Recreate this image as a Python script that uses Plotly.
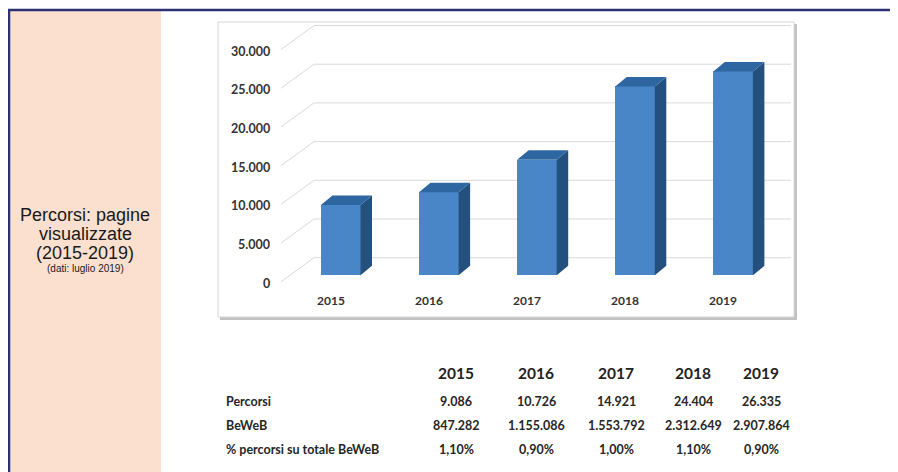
import plotly.graph_objects as go

# ---------------- data ----------------
years = ["2015", "2016", "2017", "2018", "2019"]
percorsi = [9086, 10726, 14921, 24404, 26335]
beweb = [847282, 1155086, 1553792, 2312649, 2907864]
percent_share = [1.10, 0.90, 1.00, 1.10, 0.90]
y_ticks = [0, 5000, 10000, 15000, 20000, 25000, 30000]
row_labels = ["Percorsi", "BeWeB", "% percorsi su totale BeWeB"]
panel_lines = ["Percorsi: pagine", "visualizzate", "(2015-2019)"]
panel_note = "(dati: luglio 2019)"

# ---------------- geometry / style ----------------
# the page body has an 8px margin: the figure starts at (8, 8) of the window
OFF = 8
W, H = 898 - OFF, 472 - OFF
BOX_L, BOX_R, BOX_T, BOX_B = 218 - OFF, 794 - OFF, 22 - OFF, 317 - OFF
BAR0_PX, BAR_STEP_PX = 340.7 - OFF, 98.1
ZERO_PX, PX_PER_UNIT = 275.3 - OFF, 0.00774

bar_w = 39.6 / BAR_STEP_PX
depth_x = 11.5 / BAR_STEP_PX
depth_y = 9.5 / PX_PER_UNIT
back_off = 17.6 / PX_PER_UNIT
label_off = 8.0 / PX_PER_UNIT

x0 = -(BAR0_PX - BOX_L) / BAR_STEP_PX
x1 = x0 + (BOX_R - BOX_L) / BAR_STEP_PX
y0 = -(BOX_B - ZERO_PX) / PX_PER_UNIT
y1 = (ZERO_PX - BOX_T) / PX_PER_UNIT


def px_to_x(px):
    return x0 + (px - OFF - BOX_L) / BAR_STEP_PX


FRONT = "#4886c7"
SIDE = "#23507d"
TOP = "#2e66a2"
GRID = "#dadada"
TXT = "#333333"
LBL_FONT = "Lato"


def fmt_it(v):
    return f"{v:,}".replace(",", ".")


idx = list(range(len(years)))

fig = go.Figure()

# front faces
fig.add_trace(go.Bar(x=idx, y=percorsi, width=bar_w, marker=dict(color=FRONT, line=dict(width=0)),
                     showlegend=False, hoverinfo="skip"))

# side & top faces
for i, v in zip(idx, percorsi):
    r = i + bar_w / 2
    l = i - bar_w / 2
    fig.add_trace(go.Scatter(
        x=[r, r + depth_x, r + depth_x, r, r],
        y=[0, depth_y, v + depth_y, v, 0],
        mode="lines", fill="toself", fillcolor=SIDE, line=dict(width=0, color=SIDE),
        hoverinfo="skip", showlegend=False))
    fig.add_trace(go.Scatter(
        x=[l, l + depth_x, r + depth_x, r, l],
        y=[v, v + depth_y, v + depth_y, v, v],
        mode="lines", fill="toself", fillcolor=TOP, line=dict(width=0, color=TOP),
        hoverinfo="skip", showlegend=False))


def P(px, py):
    return (px - OFF) / W, 1 - (py - OFF) / H


annotations = []
# y tick labels
for t in y_ticks:
    annotations.append(dict(x=px_to_x(272), y=t - label_off, xref="x", yref="y",
                            text=fmt_it(t), showarrow=False, xanchor="right", yanchor="middle",
                            font=dict(family=LBL_FONT, size=12.5, color=TXT, weight="bold")))
# category labels
for i, yr in zip(idx, years):
    annotations.append(dict(x=i - 0.10, y=-(300 - OFF - ZERO_PX) / PX_PER_UNIT, xref="x", yref="y",
                            text=yr, showarrow=False, xanchor="center", yanchor="middle",
                            font=dict(family=LBL_FONT, size=12, color=TXT, weight="bold")))

# table
col_px = [456, 536, 616, 693, 761]
row_py = [401.5, 425, 449]
header_py = 373

for cx, yr in zip(col_px, years):
    ax, ay = P(cx, header_py)
    annotations.append(dict(x=ax, y=ay, xref="paper", yref="paper", text=yr, showarrow=False,
                            xanchor="center", yanchor="middle",
                            font=dict(family=LBL_FONT, size=15.5, color="#222222", weight="bold")))
row_values = [
    [fmt_it(v) for v in percorsi],
    [fmt_it(v) for v in beweb],
    [f"{p:.2f}%".replace(".", ",") for p in percent_share],
]
for ry, lab, vals in zip(row_py, row_labels, row_values):
    ax, ay = P(224, ry)
    annotations.append(dict(x=ax, y=ay, xref="paper", yref="paper", text=lab, showarrow=False,
                            xanchor="left", yanchor="middle",
                            font=dict(family=LBL_FONT, size=12.5, color="#262626", weight="bold")))
    for cx, val in zip(col_px, vals):
        ax, ay = P(cx, ry)
        annotations.append(dict(x=ax, y=ay, xref="paper", yref="paper", text=val, showarrow=False,
                                xanchor="center", yanchor="middle",
                                font=dict(family=LBL_FONT, size=12.5, color="#262626", weight="bold")))

# left panel text
for k, line in enumerate(panel_lines):
    ax, ay = P(85, 215 + 19 * k)
    annotations.append(dict(x=ax, y=ay, xref="paper", yref="paper", text=line, showarrow=False,
                            xanchor="center", yanchor="middle",
                            font=dict(family="Liberation Sans", size=18, color="#1a1a1a")))
ax, ay = P(85, 268)
annotations.append(dict(x=ax, y=ay, xref="paper", yref="paper", text=panel_note, showarrow=False,
                        xanchor="center", yanchor="middle",
                        font=dict(family="Liberation Sans", size=10, color="#1a1a1a")))

shapes = [
    # left salmon panel
    dict(type="rect", xref="paper", yref="paper", x0=P(9, 0)[0], x1=P(161, 0)[0], y0=0, y1=P(0, 11)[1],
         fillcolor="#fbe0d0", line=dict(width=0), layer="below"),
    # navy frame
    dict(type="line", xref="paper", yref="paper", x0=0, x1=1, y0=P(0, 10)[1], y1=P(0, 10)[1],
         line=dict(color="#2d3073", width=2.5), layer="below"),
    dict(type="line", xref="paper", yref="paper", x0=P(9, 0)[0], x1=P(9, 0)[0], y0=0, y1=P(0, 10)[1],
         line=dict(color="#2d3073", width=2.5), layer="below"),
    # chart box shadow + box
    dict(type="rect", xref="paper", yref="paper", x0=(BOX_L + 2) / W, x1=(BOX_R + 3) / W,
         y0=1 - (BOX_B + 3) / H, y1=1 - (BOX_T + 2) / H,
         fillcolor="#c2c2c2", line=dict(width=0), layer="below"),
    dict(type="rect", xref="paper", yref="paper", x0=BOX_L / W, x1=BOX_R / W,
         y0=1 - BOX_B / H, y1=1 - BOX_T / H,
         fillcolor="white", line=dict(color="#d6d6d6", width=1), layer="below"),
]

# gridlines (back wall + diagonals), drawn below the bars
for t in y_ticks:
    shapes.append(dict(type="line", xref="x", yref="y", x0=px_to_x(281), y0=t - label_off + 200,
                       x1=px_to_x(314), y1=t + back_off, line=dict(color=GRID, width=1), layer="below"))
    shapes.append(dict(type="line", xref="x", yref="y", x0=px_to_x(314), y0=t + back_off,
                       x1=px_to_x(791), y1=t + back_off, line=dict(color=GRID, width=1), layer="below"))

fig.update_layout(
    width=W, height=H, autosize=False,
    margin=dict(l=0, r=0, t=0, b=0),
    paper_bgcolor="white", plot_bgcolor="rgba(0,0,0,0)",
    xaxis=dict(domain=[BOX_L / W, BOX_R / W], range=[x0, x1], visible=False, fixedrange=True),
    yaxis=dict(domain=[1 - BOX_B / H, 1 - BOX_T / H], range=[y0, y1], visible=False, fixedrange=True),
    bargap=0,
    showlegend=False,
    annotations=annotations,
    shapes=shapes,
)

fig.write_html("out.html")
